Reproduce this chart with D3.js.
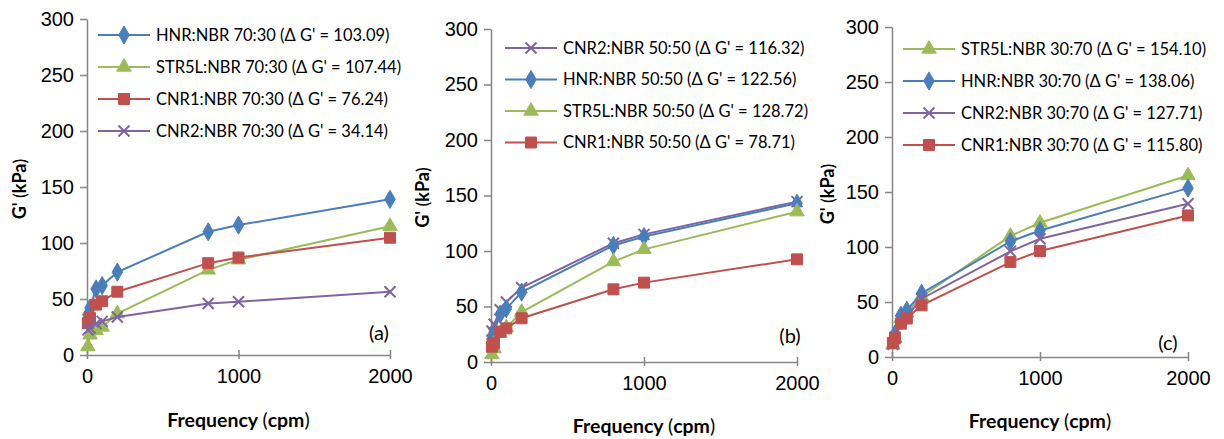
<!DOCTYPE html>
<html>
<head>
<meta charset="utf-8">
<script src="https://cdn.jsdelivr.net/npm/d3@7"></script>
<style>
  body { margin: 0; background: #fff; }
  svg { display: block; font-family: Lato, "Open Sans", sans-serif; }
</style>
</head>
<body>
<svg id="chart" width="1224" height="439"></svg>
<script>
// frequency sweep (cpm)
var freq = [6, 20, 60, 100, 200, 800, 1000, 2000];
var x_ticks = [0, 1000, 2000];
var y_ticks = [0, 50, 100, 150, 200, 250, 300];

// panel (a) 70:30
var hnr_a   = [36, 42, 59, 62, 74, 110, 116, 139];
var str5l_a = [7.5, 18, 22, 25, 37, 76, 85, 115];
var cnr1_a  = [28.5, 33, 45, 48, 56.5, 82, 87, 104.7];
var cnr2_a  = [22.4, 24, 28, 30, 34, 46, 47.6, 56.5];
// panel (b) 50:50
var cnr2_b  = [28, 34, 47, 54, 67, 107, 115, 144.5];
var hnr_b   = [20.5, 27, 43, 48, 63, 105, 113, 143];
var str5l_b = [6.7, 12, 26, 31, 45, 90.5, 101.5, 135.4];
var cnr1_b  = [13.8, 17, 27.3, 30.3, 39.4, 65.5, 71.5, 92.5];
// panel (c) 30:70
var str5l_c = [11, 17, 35, 40, 55, 110, 122, 165];
var hnr_c   = [15.4, 21, 38, 42.5, 58, 105, 115, 153.5];
var cnr2_c  = [11.6, 18, 33, 37, 53, 96, 107.5, 139.3];
var cnr1_c  = [12.9, 17, 30.3, 35, 47, 86.3, 96.3, 128.7];

var names_a = ["HNR:NBR 70:30 (Δ G' = 103.09)", "STR5L:NBR 70:30 (Δ G' = 107.44)", "CNR1:NBR 70:30 (Δ G' = 76.24)", "CNR2:NBR 70:30 (Δ G' = 34.14)"];
var names_b = ["CNR2:NBR 50:50 (Δ G' = 116.32)", "HNR:NBR 50:50 (Δ G' = 122.56)", "STR5L:NBR 50:50 (Δ G' = 128.72)", "CNR1:NBR 50:50 (Δ G' = 78.71)"];
var names_c = ["STR5L:NBR 30:70 (Δ G' = 154.10)", "HNR:NBR 30:70 (Δ G' = 138.06)", "CNR2:NBR 30:70 (Δ G' = 127.71)", "CNR1:NBR 30:70 (Δ G' = 115.80)"];

var g_style = {
    hnr:   { color: "#4a7ebb", marker: "diamond" },
    str5l: { color: "#9bbb59", marker: "triangle" },
    cnr1:  { color: "#c0504d", marker: "square" },
    cnr2:  { color: "#8064a2", marker: "cross" }
};

var g_panels = [
    { label: "(a)", x0: 87, x1: 390, y0: 355, y1: 19, lx: 98, ly: 35, dy: 32, ytitle_x: 20, ylabel: [379, 333], xt_y: 427,
      series: [["hnr", hnr_a, names_a[0]], ["str5l", str5l_a, names_a[1]], ["cnr1", cnr1_a, names_a[2]], ["cnr2", cnr2_a, names_a[3]]] },
    { label: "(b)", x0: 491, x1: 797, y0: 362, y1: 29, lx: 505, ly: 48, dy: 31.5, ytitle_x: 423, ylabel: [790, 336], xt_y: 433,
      series: [["cnr2", cnr2_b, names_b[0]], ["hnr", hnr_b, names_b[1]], ["str5l", str5l_b, names_b[2]], ["cnr1", cnr1_b, names_b[3]]] },
    { label: "(c)", x0: 892, x1: 1188, y0: 357, y1: 27, lx: 903, ly: 49, dy: 32, ytitle_x: 828, ylabel: [1168, 343], xt_y: 428,
      series: [["str5l", str5l_c, names_c[0]], ["hnr", hnr_c, names_c[1]], ["cnr2", cnr2_c, names_c[2]], ["cnr1", cnr1_c, names_c[3]]] }
];

var svg = d3.select("#chart");
g_panels.forEach(draw_panel);

function draw_marker(g, type, color) {
    if (type == "cross") {
        g.append("path").attr("d", "M-5.5,-5.5L5.5,5.5M-5.5,5.5L5.5,-5.5")
            .attr("style", "fill:none; stroke:" + color + "; stroke-width:2");
        return;
    }
    var sym = { diamond: d3.symbolDiamond, triangle: d3.symbolTriangle, square: d3.symbolSquare }[type];
    var size = { diamond: 95, triangle: 90, square: 120 }[type];
    g.append("path").attr("d", d3.symbol().type(sym).size(size)())
        .attr("style", "fill:" + color + "; stroke:" + color + "; stroke-width:1");
}

function draw_panel(p) {
    var x = d3.scaleLinear().domain([0, 2000]).range([p.x0, p.x1]);
    var y = d3.scaleLinear().domain([0, 300]).range([p.y0, p.y1]);
    var g = svg.append("g");

    // axes
    var ya = g.append("g").attr("transform", "translate(" + p.x0 + ",0)")
        .call(d3.axisLeft(y).tickValues(y_ticks).tickSizeOuter(0).tickSizeInner(7).tickPadding(6));
    var xa = g.append("g").attr("transform", "translate(0," + p.y0 + ")")
        .call(d3.axisBottom(x).tickValues(x_ticks).tickFormat(d3.format("d")).tickSizeOuter(0).tickSizeInner(4).tickPadding(10));
    xa.selectAll(".tick line").attr("y1", -5);
    [ya, xa].forEach(function (a) {
        a.select(".domain").attr("stroke", "#868686").attr("stroke-width", 1.5);
        a.selectAll(".tick line").attr("stroke", "#868686").attr("stroke-width", 1.5);
        a.selectAll(".tick text").attr("fill", "#000").style("font-size", "20px");
    });

    // lines and markers
    var line = d3.line().x(function (d) { return x(d[0]); }).y(function (d) { return y(d[1]); });
    p.series.forEach(function (s) {
        var st = g_style[s[0]];
        var pts = freq.map(function (f, i) { return [f, s[1][i]]; });
        g.append("path").datum(pts).attr("d", line)
            .attr("style", "fill:none; stroke:" + st.color + "; stroke-width:2");
        pts.forEach(function (d) {
            draw_marker(g.append("g").attr("transform", "translate(" + x(d[0]) + "," + y(d[1]) + ")"), st.marker, st.color);
        });
    });

    // legend
    p.series.forEach(function (s, i) {
        var st = g_style[s[0]];
        var ly = p.ly + i * p.dy;
        g.append("line").attr("x1", p.lx).attr("x2", p.lx + 52).attr("y1", ly).attr("y2", ly)
            .attr("style", "stroke:" + st.color + "; stroke-width:2");
        draw_marker(g.append("g").attr("transform", "translate(" + (p.lx + 26) + "," + ly + ")"), st.marker, st.color);
        g.append("text").attr("x", p.lx + 58).attr("y", ly).attr("dy", "0.35em")
            .style("font-size", "16.5px").text(s[2]);
    });

    // titles
    var yt = g.append("text").attr("transform", "translate(" + p.ytitle_x + "," + ((p.y0 + p.y1) / 2 + 2) + ") rotate(-90)")
        .attr("text-anchor", "middle").attr("dy", "0.35em").style("font-size", "18px");
    yt.append("tspan").style("font-weight", "bold").text("G' ");
    yt.append("tspan").text("(");
    yt.append("tspan").style("font-weight", "bold").text("kPa");
    yt.append("tspan").text(")");

    var xt = g.append("text").attr("x", (p.x0 + p.x1) / 2).attr("y", p.xt_y)
        .attr("text-anchor", "middle").style("font-size", "19.5px");
    xt.append("tspan").style("font-weight", "bold").text("Frequency ");
    xt.append("tspan").text("(");
    xt.append("tspan").style("font-weight", "bold").text("cpm");
    xt.append("tspan").text(")");

    g.append("text").attr("x", p.ylabel[0]).attr("y", p.ylabel[1]).attr("dy", "0.35em")
        .attr("text-anchor", "middle").style("font-size", "20px").text(p.label);
}
</script>
</body>
</html>
